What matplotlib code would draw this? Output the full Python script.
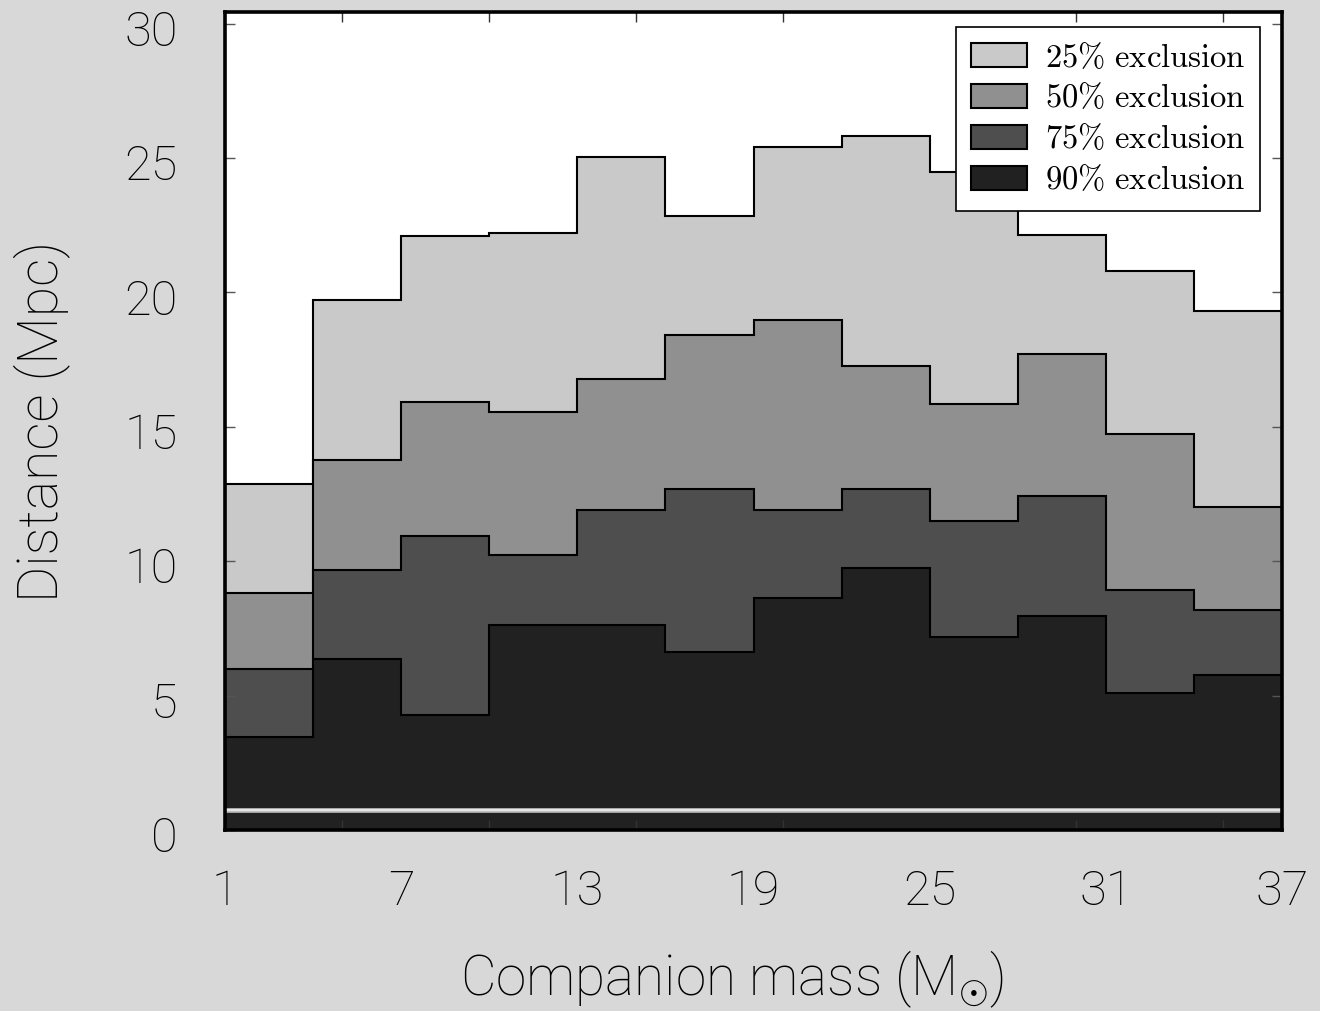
#!/usr/bin/env python3

# Stacked step histogram of exclusion distances vs companion mass

import numpy as np
import matplotlib as mpl
import matplotlib.pyplot as plt
from matplotlib.font_manager import FontProperties
from matplotlib.transforms import ScaledTranslation

# Bin edges (companion mass, Msun)
mass_edges = [1, 4, 7, 10, 13, 16, 19, 22, 25, 28, 31, 34, 37]

# Distances (Mpc) for each exclusion level, one value per mass bin
excl_25 = [12.87, 19.70, 22.08, 22.20, 25.03, 22.83, 25.41, 25.81, 24.48, 22.13, 20.80, 19.30]
excl_50 = [8.83, 13.75, 15.93, 15.56, 16.76, 18.40, 18.97, 17.26, 15.83, 17.69, 14.73, 12.02]
excl_75 = [5.98, 9.69, 10.95, 10.23, 11.90, 12.68, 11.91, 12.68, 11.48, 12.42, 8.93, 8.19]
excl_90 = [3.45, 6.37, 4.28, 7.61, 7.61, 6.62, 8.63, 9.74, 7.19, 7.97, 5.08, 5.76]

labels = ["25% exclusion", "50% exclusion", "75% exclusion", "90% exclusion"]
colors = ["#c9c9c9", "#909090", "#4e4e4e", "#212121"]

horizon = 0.74

xtick_labels = [1, 7, 13, 19, 25, 31, 37]
xtick_minor = [5, 10, 15, 20, 25, 30, 35]
ytick_vals = [0, 5, 10, 15, 20, 25, 30]

sans = ["Roboto", "Liberation Sans", "DejaVu Sans"]
plt.rcParams["font.family"] = sans
plt.rcParams["mathtext.fontset"] = "custom"
plt.rcParams["mathtext.rm"] = "Roboto:light"
plt.rcParams["mathtext.it"] = "Roboto:light"

fig = plt.figure(figsize=(13.2, 10.11), dpi=100)
fig.patch.set_facecolor("#d8d8d8")
ax = fig.add_axes([225/1320, 1 - 830/1011, (1282-225)/1320, (830-12)/1011])
ax.set_facecolor("white")

for vals, col, lab in zip([excl_25, excl_50, excl_75, excl_90], colors, labels):
    ax.stairs(vals, mass_edges, fill=True, baseline=0, facecolor=col,
              edgecolor="black", linewidth=1.5,
              label=r"$\mathrm{" + lab.replace("%", r"\%").replace(" ", r"\ ") + "}$")

# thin light line near the bottom
ax.axhline(horizon, color="#b8b8b8", linewidth=3.4)
ax.axhline(horizon, color="#e6e6e6", linewidth=1.6)

ax.set_xlim(1, 37)
ax.set_ylim(0, 30.43)

ax.set_xticks(xtick_labels)
ax.set_xticklabels([str(v) for v in xtick_labels])
ax.set_xticks(xtick_minor, minor=True)
ax.tick_params(axis="x", which="major", length=0, pad=28, labelsize=35)
ax.tick_params(axis="x", which="minor", direction="in", length=7, width=1,
               top=True, bottom=True, color="#333333")
ax.set_yticks(ytick_vals)
ax.tick_params(axis="y", which="major", direction="in", length=7, width=1,
               left=True, right=True, pad=34, labelsize=35, color="#555555")
shift = ScaledTranslation(0, -4/100, fig.dpi_scale_trans)
for t in ax.get_yticklabels():
    t.set_transform(t.get_transform() + shift)
for t in ax.get_xticklabels() + ax.get_yticklabels():
    t.set_fontweight("light")

for s in ax.spines.values():
    s.set_linewidth(2.6)
    s.set_color("black")

ax.set_xlabel(r"Companion mass (M$_{\odot}$)", fontsize=39.5, fontweight="light")
ax.set_ylabel("Distance (Mpc)", fontsize=40, fontweight="light")
ax.xaxis.set_label_coords(0.48, -0.145)
ax.yaxis.set_label_coords(-0.147, 0.5)

leg_font = FontProperties(family="DejaVu Serif", size=23.5, math_fontfamily="cm")
leg = ax.legend(loc="upper right", bbox_to_anchor=(0.979, 0.9817), prop=leg_font,
                fancybox=False, framealpha=1, edgecolor="black",
                handlelength=1.7, handleheight=0.75, labelspacing=0.27,
                borderpad=0.45, handletextpad=0.55, borderaxespad=0)
leg.get_frame().set_linewidth(1.2)

fig.savefig("out.png", dpi=100, facecolor=fig.get_facecolor())
